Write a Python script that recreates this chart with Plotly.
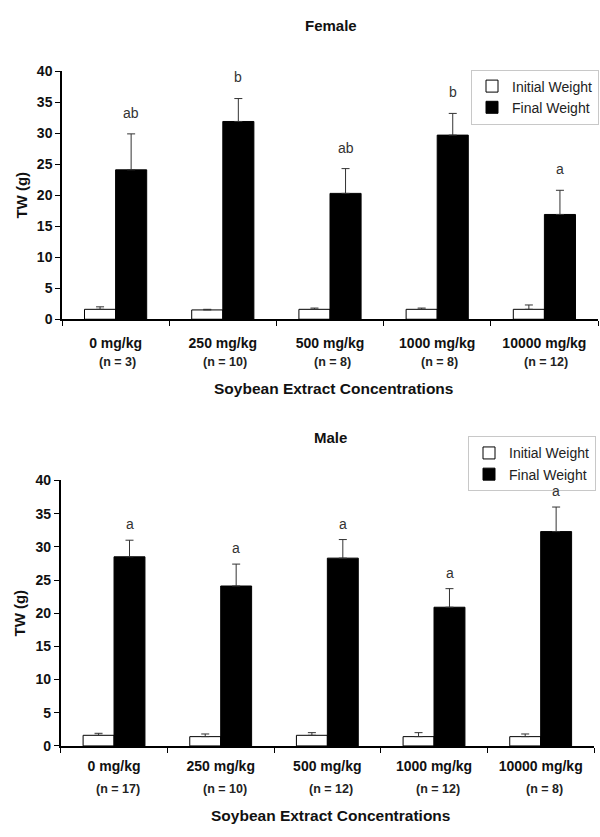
import plotly.graph_objects as go

categories = ["0 mg/kg", "250 mg/kg", "500 mg/kg", "1000 mg/kg", "10000 mg/kg"]

# Female
female_n = ["(n = 3)", "(n = 10)", "(n = 8)", "(n = 8)", "(n = 12)"]
female_initial = [1.6, 1.5, 1.6, 1.6, 1.6]
female_initial_err = [0.4, 0.1, 0.2, 0.2, 0.7]
female_final = [24.1, 31.9, 20.3, 29.7, 16.9]
female_final_err = [5.8, 3.7, 4.0, 3.5, 3.9]
female_letters = ["ab", "b", "ab", "b", "a"]

# Male
male_n = ["(n = 17)", "(n = 10)", "(n = 12)", "(n = 12)", "(n = 8)"]
male_initial = [1.6, 1.4, 1.6, 1.4, 1.4]
male_initial_err = [0.3, 0.4, 0.4, 0.6, 0.4]
male_final = [28.5, 24.1, 28.3, 20.9, 32.3]
male_final_err = [2.5, 3.3, 2.8, 2.8, 3.7]
male_letters = ["a", "a", "a", "a", "a"]

y_ticks = [0, 5, 10, 15, 20, 25, 30, 35, 40]

FONT = "Liberation Sans, Arial, sans-serif"
W, H = 600, 837


def py(pix):
    return 1 - pix / H


fig = go.Figure()

panels = [
    dict(name="Female", initial=female_initial, ierr=female_initial_err,
         final=female_final, ferr=female_final_err, letters=female_letters,
         nlab=female_n, xa="x", ya="y", legend="legend"),
    dict(name="Male", initial=male_initial, ierr=male_initial_err,
         final=male_final, ferr=male_final_err, letters=male_letters,
         nlab=male_n, xa="x2", ya="y2", legend="legend2"),
]

for p in panels:
    fig.add_trace(go.Bar(
        x=categories, y=p["initial"], name="Initial Weight",
        marker=dict(color="white", line=dict(color="black", width=1)),
        error_y=dict(type="data", array=p["ierr"], arrayminus=[0] * 5, symmetric=False,
                     color="#333333", thickness=1, width=4),
        xaxis=p["xa"], yaxis=p["ya"], legend=p["legend"], showlegend=True,
    ))
    fig.add_trace(go.Bar(
        x=categories, y=p["final"], name="Final Weight",
        marker=dict(color="black", line=dict(color="black", width=1)),
        error_y=dict(type="data", array=p["ferr"], arrayminus=[0] * 5, symmetric=False,
                     color="#333333", thickness=1, width=4),
        xaxis=p["xa"], yaxis=p["ya"], legend=p["legend"], showlegend=True,
    ))

annotations = []
letter_offsets = {"Female": 3.4, "Male": 2.4}
for p in panels:
    for i, c in enumerate(categories):
        annotations.append(dict(
            x=c, y=p["final"][i] + p["ferr"][i] + letter_offsets[p["name"]],
            xref=p["xa"], yref=p["ya"], text=p["letters"][i], showarrow=False,
            xshift=15.5, yanchor="middle",
            font=dict(family=FONT, size=14, color="#333333"),
        ))

# n labels
n_cfg = {"Female": (361, 2), "Male": (796.7, 4)}
for p in panels:
    ypix, xs = n_cfg[p["name"]]
    for i, c in enumerate(categories):
        annotations.append(dict(
            x=c, y=py(ypix), xref=p["xa"], yref="paper", text=p["nlab"][i],
            showarrow=False, yanchor="middle", xshift=xs,
            font=dict(family=FONT, size=12.5, color="#222222", weight="bold"),
        ))

# titles
annotations.append(dict(x=330.7 / W, y=py(18.3), xref="paper", yref="paper", text="Female",
                        showarrow=False, yanchor="middle", xanchor="center",
                        font=dict(family=FONT, size=15, color="#111111", weight="bold")))
annotations.append(dict(x=330 / W, y=py(437.7), xref="paper", yref="paper", text="Male",
                        showarrow=False, yanchor="middle", xanchor="center",
                        font=dict(family=FONT, size=15, color="#111111", weight="bold")))
# x axis titles
annotations.append(dict(x=333 / W, y=py(388.3), xref="paper", yref="paper",
                        text="Soybean Extract Concentrations",
                        showarrow=False, yanchor="middle", xanchor="center",
                        font=dict(family=FONT, size=15.5, color="#111111", weight="bold")))
annotations.append(dict(x=330 / W, y=py(823.3), xref="paper", yref="paper",
                        text="Soybean Extract Concentrations",
                        showarrow=False, yanchor="middle", xanchor="center",
                        font=dict(family=FONT, size=15.5, color="#111111", weight="bold")))

xaxis_common = dict(
    type="category", showline=True, linecolor="black", linewidth=1.5,
    ticks="outside", ticklen=5, tickcolor="black", tickson="boundaries",
    showgrid=False, zeroline=False,
    tickfont=dict(family=FONT, size=14, color="#111111", weight="bold"),
)
yaxis_common = dict(
    range=[0, 40], tickvals=y_ticks, showline=True, linecolor="black", linewidth=1.5,
    ticks="outside", ticklen=5, tickcolor="black", showgrid=False, zeroline=False,
    tickfont=dict(family=FONT, size=14, color="#111111", weight="bold"),
    title=dict(text="TW (g)", font=dict(family=FONT, size=15, color="#111111", weight="bold"),
               standoff=6),
)

legend_common = dict(
    bgcolor="white", bordercolor="#c8c8c8", borderwidth=1,
    font=dict(family=FONT, size=14, color="#222222"),
    xanchor="right", yanchor="top", traceorder="normal",
    tracegroupgap=0, itemclick=False,
)

fig.update_layout(
    width=W, height=H, margin=dict(l=0, r=0, t=0, b=0),
    paper_bgcolor="white", plot_bgcolor="white",
    barmode="group", bargap=0.42, bargroupgap=0,
    xaxis=dict(domain=[62 / W, 598 / W], anchor="y", ticklabelstandoff=10, **xaxis_common),
    yaxis=dict(domain=[py(317.3), py(64.5)], anchor="x", **yaxis_common),
    xaxis2=dict(domain=[60.7 / W, 594 / W], anchor="y2", ticklabelstandoff=7, **xaxis_common),
    yaxis2=dict(domain=[py(752.3), py(481.7)], anchor="x2", **yaxis_common),
    legend=dict(x=599 / W, y=py(62.7), **legend_common),
    legend2=dict(x=596 / W, y=py(436.7), **legend_common),
    annotations=annotations,
    showlegend=True,
)

fig.write_html(
    "out.html",
    config={"displayModeBar": False},
    post_script="document.body.style.margin='0';document.body.style.overflow='hidden';",
)
